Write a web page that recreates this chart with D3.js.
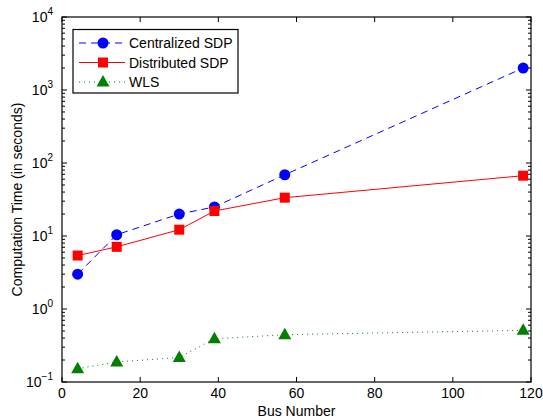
<!DOCTYPE html>
<html>
<head>
<meta charset="utf-8">
<script src="https://cdn.jsdelivr.net/npm/d3@7"></script>
<style>
  body { margin: 0; background: white; }
  text { font-family: "Liberation Sans", Arial, sans-serif; }
</style>
</head>
<body>
<div id="graf"></div>
<script>
const busNumbers = [4, 14, 30, 39, 57, 118]
const centralized = [3.0, 10.4, 20, 25, 69, 2000]
const distributed = [5.4, 7.1, 12.2, 22, 33.5, 67]
const wls = [0.152, 0.188, 0.217, 0.39, 0.445, 0.51]
const xTicks = [0, 20, 40, 60, 80, 100, 120]
const yExps = [-1, 0, 1, 2, 3, 4]

const series = [
  { name: "Centralized SDP", values: centralized, color: "#0000ff", dash: "7,5", marker: "circle" },
  { name: "Distributed SDP", values: distributed, color: "#ff0000", dash: null, marker: "square" },
  { name: "WLS", values: wls, color: "#008000", dash: "1,4", marker: "triangle" },
]

const anchoTotal = 543
const altoTotal = 419
const margins = { top: 17, right: 12, bottom: 37, left: 62 }
const ancho = anchoTotal - margins.left - margins.right
const alto = altoTotal - margins.top - margins.bottom

const svg = d3.select("#graf")
  .append("svg")
  .attr("width", anchoTotal)
  .attr("height", altoTotal)

const g = svg.append("g")
  .attr("transform", `translate(${margins.left}, ${margins.top})`)

const x = d3.scaleLinear().domain([0, 120]).range([0, ancho])
const y = d3.scaleLog().domain([0.1, 10000]).range([alto, 0])

// minor log ticks
const minor = []
yExps.slice(0, -1).forEach(e => {
  for (let k = 2; k <= 9; k++) minor.push(k * Math.pow(10, e))
})

const tickLen = 5
const minorLen = 3

// x ticks (bottom and top, inward)
xTicks.forEach(t => {
  g.append("line").attr("x1", x(t)).attr("x2", x(t)).attr("y1", alto).attr("y2", alto - tickLen)
    .attr("stroke", "black")
  g.append("line").attr("x1", x(t)).attr("x2", x(t)).attr("y1", 0).attr("y2", tickLen)
    .attr("stroke", "black")
  g.append("text").attr("x", x(t)).attr("y", alto + 16)
    .attr("text-anchor", "middle").attr("font-size", 14).text(t)
})

// y major ticks
yExps.forEach(e => {
  const v = Math.pow(10, e)
  g.append("line").attr("x1", 0).attr("x2", tickLen).attr("y1", y(v)).attr("y2", y(v))
    .attr("stroke", "black")
  g.append("line").attr("x1", ancho).attr("x2", ancho - tickLen).attr("y1", y(v)).attr("y2", y(v))
    .attr("stroke", "black")
  const t = g.append("text").attr("x", -9).attr("y", y(v) + 5)
    .attr("text-anchor", "end").attr("font-size", 14)
  t.append("tspan").text("10")
  t.append("tspan").attr("dy", -7).attr("font-size", 10).text(e < 0 ? "\u22121" : e)
})

minor.forEach(v => {
  g.append("line").attr("x1", 0).attr("x2", minorLen).attr("y1", y(v)).attr("y2", y(v))
    .attr("stroke", "black")
  g.append("line").attr("x1", ancho).attr("x2", ancho - minorLen).attr("y1", y(v)).attr("y2", y(v))
    .attr("stroke", "black")
})

// box
g.append("rect").attr("width", ancho).attr("height", alto)
  .attr("fill", "none").attr("stroke", "black").attr("stroke-width", 1.2)

// axis labels
svg.append("text").attr("x", margins.left + ancho / 2).attr("y", altoTotal - 3)
  .attr("text-anchor", "middle").attr("font-size", 14).text("Bus Number")
svg.append("text")
  .attr("transform", `translate(22, ${margins.top + alto / 2}) rotate(-90)`)
  .attr("text-anchor", "middle").attr("font-size", 14).text("Computation Time (in seconds)")

const line = d3.line().x(d => x(d[0])).y(d => y(d[1]))

const drawMarker = (sel, s, cx, cy) => {
  if (s.marker === "circle") {
    sel.append("circle").attr("cx", cx).attr("cy", cy).attr("r", 5.5).attr("fill", s.color)
  } else if (s.marker === "square") {
    sel.append("rect").attr("x", cx - 5).attr("y", cy - 5).attr("width", 10).attr("height", 10)
      .attr("fill", s.color)
  } else {
    sel.append("path").attr("d", `M${cx},${cy - 7}L${cx + 6.5},${cy + 4.5}L${cx - 6.5},${cy + 4.5}Z`)
      .attr("fill", s.color)
  }
}

series.forEach(s => {
  const pts = busNumbers.map((b, i) => [b, s.values[i]])
  g.append("path").attr("d", line(pts)).attr("fill", "none")
    .attr("stroke", s.color).attr("stroke-width", 1)
    .attr("stroke-dasharray", s.dash)
  pts.forEach(p => drawMarker(g, s, x(p[0]), y(p[1])))
})

// legend
const leg = svg.append("g")
leg.append("rect").attr("x", 73).attr("y", 29.5).attr("width", 165).attr("height", 63.5)
  .attr("fill", "white").attr("stroke", "black").attr("stroke-width", 1.2)
series.forEach((s, i) => {
  const ly = 43 + i * 19.5
  leg.append("line").attr("x1", 79).attr("x2", 125).attr("y1", ly).attr("y2", ly)
    .attr("stroke", s.color).attr("stroke-dasharray", s.dash)
  drawMarker(leg, s, 103, ly)
  leg.append("text").attr("x", 129).attr("y", ly + 5).attr("font-size", 14).text(s.name)
})
</script>
</body>
</html>
